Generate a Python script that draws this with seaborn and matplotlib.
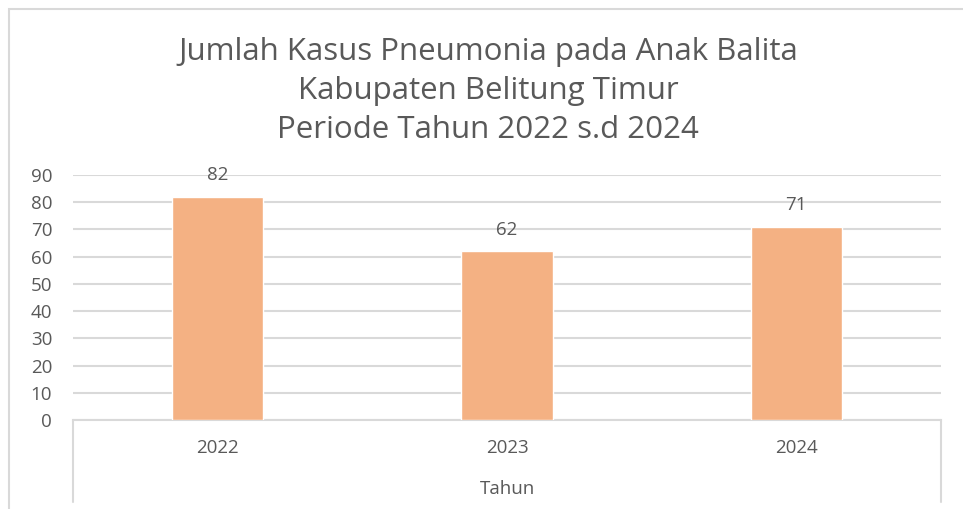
import matplotlib
matplotlib.use("Agg")
import pandas as pd
import seaborn as sns
import matplotlib.pyplot as plt
from matplotlib.patches import Rectangle

# data
tahun = ["2022", "2023", "2024"]
kasus = [82, 62, 71]
y_ticks = [0, 10, 20, 30, 40, 50, 60, 70, 80, 90]

df = pd.DataFrame({"Tahun": tahun, "Kasus": kasus})

sns.set_theme(style="white")
plt.rcParams["font.family"] = ["Open Sans", "DejaVu Sans"]

text_col = "#595959"
grid_col = "#D9D9D9"

fig = plt.figure(figsize=(9.63, 5.09), dpi=100)
ax = fig.add_axes([73 / 963, 1 - 420 / 509, (941 - 73) / 963, (420 - 175) / 509])

sns.barplot(data=df, x="Tahun", y="Kasus", color="#F4B183", width=0.315,
            saturation=1, ax=ax, zorder=3)

ax.set_ylim(0, 90)
ax.set_xlim(-0.5, 2.5)
ax.set_yticks(y_ticks)
ax.yaxis.grid(True, color=grid_col, linewidth=1.5, zorder=0)
ax.set_axisbelow(True)
for s in ["top", "right", "left"]:
    ax.spines[s].set_visible(False)
ax.spines["bottom"].set_color(grid_col)
ax.spines["bottom"].set_linewidth(1.5)
ax.tick_params(axis="y", length=0, pad=15, labelsize=13.5, labelcolor=text_col)
ax.tick_params(axis="x", length=0, pad=14, labelsize=13.5, labelcolor=text_col)
ax.set_xlabel("Tahun", fontsize=13.5, color=text_col, labelpad=16)
ax.set_ylabel("")

# data labels
for cont in ax.containers:
    ax.bar_label(cont, padding=9, fontsize=13.5, color=text_col)

# category axis box sides (Excel style)
for xv in [-0.5, 2.5]:
    ax.axvline(xv, ymin=-82 / 245, ymax=0, color=grid_col,
               linewidth=1.5, clip_on=False)

# chart title
fig.text(488 / 963, 1 - 91 / 509,
         "Jumlah Kasus Pneumonia pada Anak Balita\nKabupaten Belitung Timur\nPeriode Tahun 2022 s.d 2024",
         ha="center", va="center", fontsize=22.5, color=text_col, linespacing=1.38)

# chart outer border
fig.patches.append(Rectangle((9 / 963, -0.05), 1.2, 1 - 9 / 509 + 0.05,
                             transform=fig.transFigure, fill=False,
                             edgecolor=grid_col, linewidth=1.5))

fig.savefig("out.png", dpi=100)
